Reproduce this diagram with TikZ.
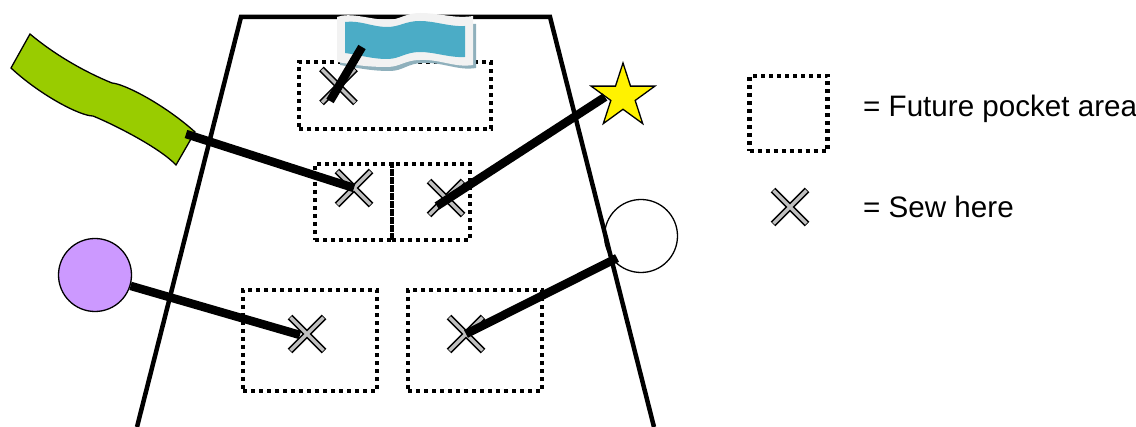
\documentclass[tikz,border=0pt]{standalone}
\usepackage{fontspec}
\setmainfont{Liberation Sans}
\usepackage{xcolor}
\definecolor{cLeaf}{HTML}{99CC00}
\definecolor{cLilac}{HTML}{CC99FF}
\definecolor{cSea}{HTML}{4BACC6}
\definecolor{cFoam}{HTML}{F2F2F2}
\definecolor{cShade}{HTML}{8FB0BC}
\definecolor{cSew}{HTML}{BFBFBF}
\usetikzlibrary{positioning,shapes.geometric}
\tikzset{
  node-pocket/.style={draw=black,line width=4.2pt,dash pattern=on 4pt off 4pt,
    inner sep=0pt,outer sep=0pt,anchor=north west},
  node-sew/.style={inner sep=0pt,minimum size=44pt,path picture={
    \draw[line width=6.4pt,line join=round] (-17pt,-17pt) -- (17pt,17pt) (-17pt,17pt) -- (17pt,-17pt);
    \draw[line width=3.4pt,draw=cSew] (-16.4pt,-16.4pt) -- (16.4pt,16.4pt)
      (-16.4pt,16.4pt) -- (16.4pt,-16.4pt);}},
  node-button/.style={draw=black,line width=1.3pt,circle,minimum size=73pt,inner sep=0pt},
  node-star/.style={draw=black,line width=1.3pt,fill=yellow,star,star points=5,
    star point ratio=2.618,minimum size=67pt,inner sep=0pt},
  node-note/.style={anchor=west,inner sep=0pt,font=\fontsize{29.6pt}{34pt}\selectfont},
  seam/.style={line width=4.5pt,draw=black},
  tie/.style={line width=8.5pt,draw=black},
}
\begin{document}
\begin{tikzpicture}[x=1pt,y=-1pt]
  \useasboundingbox (0,0) rectangle (1136,427);
  \draw[seam] (137,427) -- (241,17) -- (550,17) -- (654,427);
  % pocket areas
  \node[node-pocket,minimum width=192pt,minimum height=67pt]  (top)   at (299,62)  {};
  \node[node-pocket,minimum width=77pt,minimum height=76pt]   (midL)  at (315,164) {};
  \node[node-pocket,minimum width=78pt,minimum height=76pt]   (midR)  at (392,164) {};
  \node[node-pocket,minimum width=134pt,minimum height=101pt] (lowL)  at (243,290) {};
  \node[node-pocket,minimum width=134pt,minimum height=101pt] (lowR)  at (408,290) {};
  \node[node-pocket,minimum width=78pt,minimum height=75pt]   (keyP)  at (749.5,76)  {};
  % sew marks
  \node[node-sew] (sewA) at (338.5,86) {};
  \node[node-sew] (sewB) at (354,188)  {};
  \node[node-sew] (sewC) at (446,198)  {};
  \node[node-sew] (sewD) at (307,334)  {};
  \node[node-sew] (sewE) at (466,334)  {};
  \node[node-sew] (keyS) at (790,207)  {};
  % blue flag
  \fill[cShade] (340,24) -- (476,24) -- (476,68) .. controls (458,71) and (443,62) .. (423,63)
    .. controls (408,63) and (403,71) .. (390,71) .. controls (371,71) and (358,68) .. (340,65) -- cycle;
  \fill[cFoam] (337,17) .. controls (350,12) and (368,19) .. (387,20)
    .. controls (400,20) and (405,13) .. (420,13) .. controls (440,13) and (455,19) .. (473,16)
    -- (473,65) .. controls (455,68) and (440,59) .. (420,60)
    .. controls (405,60) and (400,67) .. (387,67) .. controls (368,67) and (355,65) .. (337,62) -- cycle;
  \fill[cSea] (345,22) .. controls (360,20) and (372,27) .. (387,27)
    .. controls (400,27) and (405,21) .. (420,21) .. controls (435,21) and (450,27) .. (465,26)
    -- (465,57) .. controls (450,58) and (435,52) .. (420,52)
    .. controls (405,52) and (400,59) .. (387,59) .. controls (372,59) and (360,55) .. (345,53) -- cycle;
  % green flag
  \draw[line width=1.3pt,fill=cLeaf] (30,34) .. controls (55,55) and (85,72) .. (112,83)
    .. controls (125,84) and (165,105) .. (195,132) -- (176,165)
    .. controls (160,148) and (115,125) .. (93,116)
    .. controls (80,116) and (40,95) .. (11,68) -- cycle;
  \node[node-star]   (star)   at (623,96.5)  {};
  \node[node-button,fill=cLilac] (lilac) at (95,275)  {};
  \node[node-button]             (plain) at (641,236) {};
  \coordinate (flagA)  at (362,47);
  \coordinate (flagB)  at (186,134);
  \coordinate (starB)  at (605,97);
  \coordinate (plainB) at (617,258);
  \coordinate (tipA)   at (330,101);
  \coordinate (tipC)   at (437,206);
  \coordinate (tipD)   at (300,335);
  \draw[tie] (flagA) -- (tipA);
  \draw[tie] (flagB) -- (sewB.center);
  \draw[tie] (starB) -- (tipC);
  \draw[tie] (lilac.-17) -- (tipD);
  \draw[tie] (plainB) -- (sewE.center);
  \node[node-note] (noteP) at (863,109) {= Future pocket area};
  \node[node-note] (noteS) at (863,207) {= Sew here};
\end{tikzpicture}
\end{document}
